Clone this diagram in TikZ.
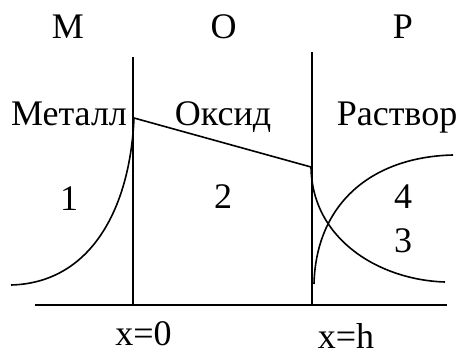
\documentclass[tikz,border=0pt]{standalone}
\usepackage{fontspec}
\setmainfont{Liberation Serif}
\begin{document}
\begin{tikzpicture}[x=1pt,y=-1pt,
  lbl/.style={anchor=base,inner sep=0pt,font=\fontsize{36}{40}\selectfont},
  ln/.style={line width=1.6pt}]
\useasboundingbox (0,0) rectangle (467,356);
% top labels
\node[lbl] (tm) at (68,38) {M};
\node[lbl] (to) at (223.5,38) {O};
\node[lbl] (tp) at (403,38) {P};
\node[lbl] (met) at (69,125) {Металл};
\node[lbl] (oks) at (223,125) {Оксид};
\node[lbl] (ras) at (397,125) {Раствор};
\node[lbl] (n1) at (69,210) {1};
\node[lbl] (n2) at (223,208) {2};
\node[lbl] (n4) at (403,208) {4};
\node[lbl] (n3) at (403,252) {3};
\node[lbl] (x0) at (143.5,345) {x=0};
\node[lbl] (xh) at (346,348) {x=h};
% structure
\coordinate (v1t) at (133,57);
\coordinate (v1b) at (133,305);
\coordinate (v2t) at (312,52);
\coordinate (v2b) at (312,305);
\coordinate (axl) at (35,305);
\coordinate (axr) at (447,305);
\draw[ln] (v1t) -- (v1b);
\draw[ln] (v2t) -- (v2b);
\draw[ln] (axl) -- (axr);
% oxide profile
\coordinate (s1) at (134,118);
\coordinate (s2) at (311,167);
\draw[ln] (s1) -- (s2);
% curve 1 (metal)
\coordinate (c1a) at (11,285);
\draw[ln] (c1a) .. controls (90,283) and (130,210) .. (s1);
% curve 3
\coordinate (c3b) at (445,282);
\draw[ln] (s2) .. controls (312,240) and (380,280) .. (c3b);
% curve 4
\coordinate (c4a) at (314,284);
\coordinate (c4b) at (453,155);
\draw[ln] (c4a) .. controls (316,205) and (370,157) .. (c4b);
\end{tikzpicture}
\end{document}
